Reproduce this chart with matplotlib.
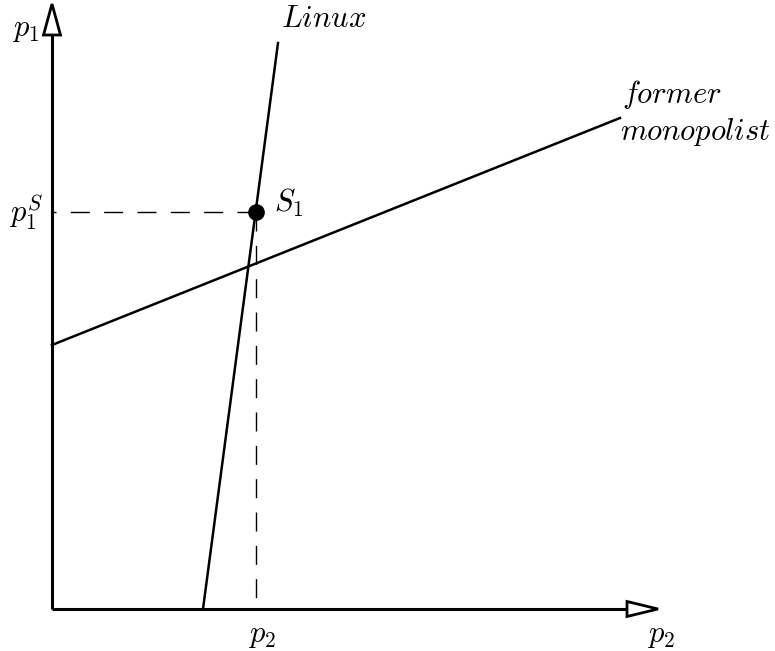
import matplotlib
matplotlib.use('Agg')
import matplotlib.pyplot as plt
from matplotlib.patches import Polygon

plt.rcParams['mathtext.fontset'] = 'cm'

# data (units: p2 horizontal, p1 vertical, origin at axes corner)
linux_p2 = [151, 226]
linux_p1 = [0, 566]
mono_p2 = [0, 568]
mono_p1 = [264, 491]
s1_p2 = 204
s1_p1 = 397
x_axis_end = 606
y_axis_end = 605

fig = plt.figure(figsize=(7.75, 6.51), dpi=100)
ax = fig.add_axes([0, 0, 1, 1])
ax.set_xlim(-52, 723)
ax.set_ylim(-42, 609)
ax.axis('off')

# axes with open arrow heads
ax.plot([0, x_axis_end - 31], [0, 0], color='black', lw=2.2, solid_capstyle='butt')
ax.plot([0, 0], [0, y_axis_end - 31], color='black', lw=2.2, solid_capstyle='butt')
ax.add_patch(Polygon([[x_axis_end - 31, -7.5], [x_axis_end, 0], [x_axis_end - 31, 7.5]],
                     closed=True, facecolor='white', edgecolor='black', lw=2))
ax.add_patch(Polygon([[-8.5, y_axis_end - 31], [0, y_axis_end], [8.5, y_axis_end - 31]],
                     closed=True, facecolor='white', edgecolor='black', lw=2))

# reaction lines
ax.plot(linux_p2, linux_p1, color='black', lw=1.8)
ax.plot(mono_p2, mono_p1, color='black', lw=1.8)

# dashed guides, drawn outward from the equilibrium point
ax.plot([s1_p2, 0], [s1_p1, s1_p1], color='black', lw=1, dashes=(13.7, 10.3))
ax.plot([s1_p2, s1_p2], [s1_p1, 0], color='black', lw=1, dashes=(13.7, 10.3))

ax.plot([s1_p2], [s1_p1], 'o', color='black', markersize=11)

fs = 22
ax.text(-13, 580, r'$p_1$', fontsize=fs, ha='right', va='center')
ax.text(-9, s1_p1, r'$p_1^S$', fontsize=fs, ha='right', va='center')
ax.text(s1_p2 + 18, s1_p1 + 9, r'$S_1$', fontsize=fs, ha='left', va='center')
ax.text(s1_p2 + 6, -27, r'$p_2$', fontsize=fs, ha='center', va='center')
ax.text(x_axis_end + 17, -27, r'$p_2$', fontsize=fs, ha='right', va='center')
ax.text(229, 582, r'$Linux$', fontsize=fs, ha='left', va='baseline')
ax.text(570, 506, r'$former$', fontsize=fs, ha='left', va='baseline')
ax.text(568, 469, r'$monopolist$', fontsize=fs, ha='left', va='baseline')

fig.savefig('out.png', dpi=100)
